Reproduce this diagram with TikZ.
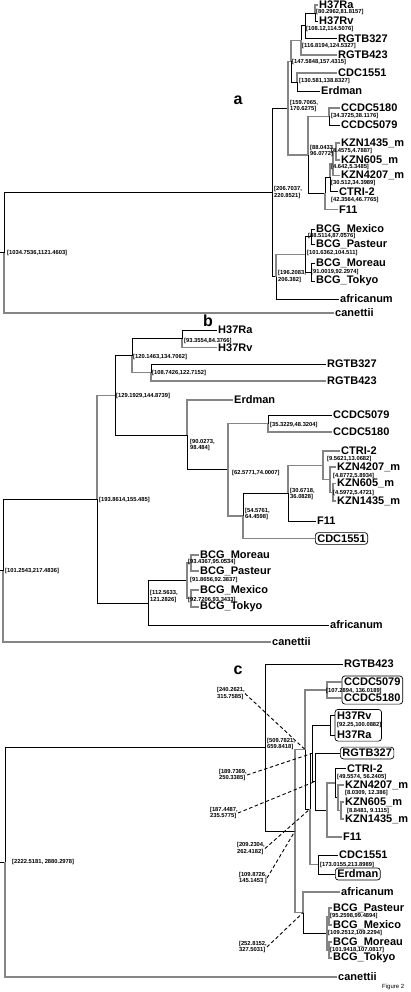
\documentclass[tikz,border=0pt]{standalone}
\usepackage{fontspec}
\setmainfont{Liberation Sans}
\usetikzlibrary{fit}
\begin{document}
\begin{tikzpicture}[x=1pt,y=-1pt,
  blk/.style={draw=black,line width=0.7pt},
  gry/.style={draw=black!48,line width=1.3pt},
  dsh/.style={draw=black,line width=0.9pt,dash pattern=on 3.5pt off 2.5pt},
  leaf/.style={anchor=west,inner sep=1pt,font=\fontsize{11}{12}\selectfont\bfseries},
  bleaf/.style={anchor=west,inner sep=2pt,font=\fontsize{11}{12}\selectfont\bfseries},
  boxed/.style={draw=black,line width=0.7pt,rounded corners=3pt},
  hpd/.style={anchor=west,inner sep=0pt,font=\fontsize{5.8}{6.4}\selectfont\bfseries,align=left},
  hpdr/.style={anchor=east,inner sep=0pt,font=\fontsize{5.8}{6.4}\selectfont\bfseries,align=left},
  panel/.style={font=\fontsize{16}{16}\selectfont\bfseries}]
\useasboundingbox (0,0) rectangle (410,992);
\fill[white] (0,0) rectangle (410,992);

% ================= PANEL A =================
\node[panel] (la) at (238,100) {a};
\node[leaf] (aH37Ra) at (318,5) {H37Ra};
\node[leaf] (aH37Rv) at (318,21) {H37Rv};
\node[leaf] (aRGTB327) at (337,38.5) {RGTB327};
\node[leaf] (aRGTB423) at (337,55) {RGTB423};
\node[leaf] (aCDC1551) at (337,73) {CDC1551};
\node[leaf] (aErdman) at (320,91) {Erdman};
\node[leaf] (aCCDC5180) at (340,108) {CCDC5180};
\node[leaf] (aCCDC5079) at (340,125) {CCDC5079};
\node[leaf] (aKZN1435) at (340,143) {KZN1435\_m};
\node[leaf] (aKZN605) at (340,160) {KZN605\_m};
\node[leaf] (aKZN4207) at (340,175.5) {KZN4207\_m};
\node[leaf] (aCTRI2) at (338,191.5) {CTRI-2};
\node[leaf] (aF11) at (338,209.5) {F11};
\node[leaf] (aMex) at (315,229) {BCG\_Mexico};
\node[leaf] (aPas) at (315,244) {BCG\_Pasteur};
\node[leaf] (aMor) at (315,263) {BCG\_Moreau};
\node[leaf] (aTok) at (315,281) {BCG\_Tokyo};
\node[leaf] (aafr) at (339,299) {africanum};
\node[leaf] (acan) at (334,313) {canettii};

\coordinate (aH37) at (315,13);
\coordinate (a108) at (305,25.75);
\coordinate (a116) at (301,40.4);
\coordinate (aCDC) at (297,82);
\coordinate (a147) at (291,61.2);
\coordinate (aCC) at (329,116.5);
\coordinate (aK1) at (336,151.5);
\coordinate (aK2) at (333,163.5);
\coordinate (aK3) at (330,177.5);
\coordinate (aKF) at (325,193.5);
\coordinate (a88) at (308,155);
\coordinate (a159) at (288,108.1);
\coordinate (aMP) at (311,236.5);
\coordinate (aMT) at (311,272);
\coordinate (aBCG) at (305,254.25);
\coordinate (a196) at (276,276.6);
\coordinate (a206) at (272,192.4);
\coordinate (aroot) at (4,252.7);
\coordinate (a0) at (0,252.7);

\draw[blk] (a0) -- (aroot);
\draw[blk] (aroot) |- (a206);
\draw[gry] (aroot) |- (acan.west);
\draw[blk] (a206) |- (a159);
\draw[blk] (a206) |- (a196);
\draw[gry] (a159) |- (a147);
\draw[gry] (a159) |- (a88);
\draw[gry] (a147) |- (a116);
\draw[blk] (a147) |- (aCDC);
\draw[blk] (a116) |- (a108);
\draw[gry] (a116) |- (aRGTB423.west);
\draw[blk] (a108) |- (aH37);
\draw[blk] (a108) |- (aRGTB327.west);
\draw[gry] (aH37) |- (aH37Ra.west);
\draw[blk] (aH37) |- (aH37Rv.west);
\draw[gry] (aCDC) |- (aCDC1551.west);
\draw[blk] (aCDC) |- (aErdman.west);
\draw[gry] (a88) |- (aCC);
\draw[blk] (a88) |- (aKF);
\draw[gry] (aCC) |- (aCCDC5180.west);
\draw[blk] (aCC) |- (aCCDC5079.west);
\draw[blk] (aKF) |- (aK3);
\draw[gry] (aKF) |- (aF11.west);
\draw[gry] (aK3) |- (aK2);
\draw[blk] (aK3) |- (aCTRI2.west);
\draw[gry] (aK2) |- (aK1);
\draw[gry] (aK2) |- (aKZN4207.west);
\draw[gry] (aK1) |- (aKZN1435.west);
\draw[gry] (aK1) |- (aKZN605.west);
\draw[gry] (a196) |- (aBCG);
\draw[blk] (a196) |- (aafr.west);
\draw[blk] (aBCG) |- (aMP);
\draw[blk] (aBCG) |- (aMT);
\draw[blk] (aMP) |- (aMex.west);
\draw[blk] (aMP) |- (aPas.west);
\draw[blk] (aMT) |- (aMor.west);
\draw[blk] (aMT) |- (aTok.west);

\node[hpd] (ha1) at (316,12.5) {[80.2962,81.8157]};
\node[hpd] (ha2) at (306,29.5) {[108.12,114.5076]};
\node[hpd] (ha3) at (302,46) {[116.8194,124.5327]};
\node[hpd] (ha4) at (292,62.5) {[147.5848,157.4315]};
\node[hpd] (ha5) at (299,81.5) {[130.581,138.8327]};
\node[hpd] (ha6) at (290,106) {[159.7065,\\170.6275]};
\node[hpd] (ha7) at (331,116.5) {[34.3725,38.1176]};
\node[hpd] (ha8) at (310,151) {[88.0433,\\96.0772]};
\node[hpd] (ha9) at (331,151.5) {[4.4575,4.7887]};
\node[hpd] (ha10) at (331,167.5) {[4.642,5.3485]};
\node[hpd] (ha11) at (331,183) {[30.512,34.3989]};
\node[hpd] (ha12) at (331,200.5) {[42.3564,46.7765]};
\node[hpd] (ha13) at (274,192.5) {[206.7037,\\220.8521]};
\node[hpd] (ha14) at (308,236.5) {[88.5114,87.0576]};
\node[hpd] (ha15) at (307,253.5) {[101.6362,104.511]};
\node[hpd] (ha16) at (311,272) {[91.0019,92.2974]};
\node[hpd] (ha17) at (278,276.6) {[196.2083,\\206.382]};
\node[hpd] (ha18) at (7,252.7) {[1034.7536,1121.4603]};

% ================= PANEL B =================
\node[panel] (lb) at (208,320.5) {b};
\node[leaf] (bH37Ra) at (217,330) {H37Ra};
\node[leaf] (bH37Rv) at (217,347.5) {H37Rv};
\node[leaf] (bRGTB327) at (326,364) {RGTB327};
\node[leaf] (bRGTB423) at (326,381) {RGTB423};
\node[leaf] (bErdman) at (233,400) {Erdman};
\node[leaf] (bCCDC5079) at (332,415) {CCDC5079};
\node[leaf] (bCCDC5180) at (332,432) {CCDC5180};
\node[leaf] (bCTRI2) at (340,451) {CTRI-2};
\node[leaf] (bKZN4207) at (336,467) {KZN4207\_m};
\node[leaf] (bKZN605) at (336,483.5) {KZN605\_m};
\node[leaf] (bKZN1435) at (336,501) {KZN1435\_m};
\node[leaf] (bF11) at (316,521) {F11};
\node[bleaf,boxed] (bCDC) at (315,538.5) {CDC1551};
\node[leaf] (bMor) at (199,555) {BCG\_Moreau};
\node[leaf] (bPas) at (199,571) {BCG\_Pasteur};
\node[leaf] (bMex) at (199,590) {BCG\_Mexico};
\node[leaf] (bTok) at (199,607) {BCG\_Tokyo};
\node[leaf] (bafr) at (329,625) {africanum};
\node[leaf] (bcan) at (271,642) {canettii};

\coordinate (bH37) at (182,338.75);
\coordinate (bRG) at (151,372.5);
\coordinate (b120) at (132,355.6);
\coordinate (bCC) at (268,423.5);
\coordinate (bK3) at (333,492.25);
\coordinate (bK2) at (330,479.6);
\coordinate (bK1) at (323,465.3);
\coordinate (b30) at (288,493.2);
\coordinate (b54) at (243,515.9);
\coordinate (b62) at (228,469.7);
\coordinate (b90) at (187,434.9);
\coordinate (b129) at (115,395.2);
\coordinate (bMP) at (191,563);
\coordinate (bMT) at (191,598.5);
\coordinate (bBI) at (187,580.75);
\coordinate (bBCG) at (148,602.9);
\coordinate (b193) at (97,499);
\coordinate (broot) at (3,570.5);
\coordinate (b0) at (0,570.5);

\draw[blk] (b0) -- (broot);
\draw[blk] (broot) |- (b193);
\draw[gry] (broot) |- (bcan.west);
\draw[gry] (b193) |- (b129);
\draw[blk] (b193) |- (bBCG);
\draw[blk] (b129) |- (b120);
\draw[blk] (b129) |- (b90);
\draw[blk] (b120) |- (bH37);
\draw[gry] (b120) |- (bRG);
\draw[blk] (bH37) |- (bH37Ra.west);
\draw[gry] (bH37) |- (bH37Rv.west);
\draw[blk] (bRG) |- (bRGTB327.west);
\draw[gry] (bRG) |- (bRGTB423.west);
\draw[gry] (b90) |- (bErdman.west);
\draw[blk] (b90) |- (b62);
\draw[gry] (b62) |- (bCC);
\draw[gry] (b62) |- (b54);
\draw[blk] (bCC) |- (bCCDC5079.west);
\draw[gry] (bCC) |- (bCCDC5180.west);
\draw[blk] (b54) |- (b30);
\draw[gry] (b54) |- (bCDC.west);
\draw[gry] (b30) |- (bK1);
\draw[blk] (b30) |- (bF11.west);
\draw[gry] (bK1) |- (bCTRI2.west);
\draw[gry] (bK1) |- (bK2);
\draw[gry] (bK2) |- (bKZN4207.west);
\draw[gry] (bK2) |- (bK3);
\draw[gry] (bK3) |- (bKZN605.west);
\draw[gry] (bK3) |- (bKZN1435.west);
\draw[blk] (bBCG) |- (bBI);
\draw[blk] (bBCG) |- (bafr.west);
\draw[gry] (bBI) |- (bMP);
\draw[gry] (bBI) |- (bMT);
\draw[gry] (bMP) |- (bMor.west);
\draw[gry] (bMP) |- (bPas.west);
\draw[gry] (bMT) |- (bMex.west);
\draw[gry] (bMT) |- (bTok.west);

\node[hpd] (hb1) at (184,340.5) {[93.3554,84.3766]};
\node[hpd] (hb2) at (133,356.5) {[120.1463,134.7062]};
\node[hpd] (hb3) at (152,373) {[108.7426,122.7152]};
\node[hpd] (hb4) at (116,395.5) {[129.1929,144.8739]};
\node[hpd] (hb5) at (190,445) {[90.0273,\\98.484]};
\node[hpd] (hb6) at (270,424.5) {[35.3229,48.3204]};
\node[hpd] (hb7) at (327,459) {[9.5621,13.0682]};
\node[hpd] (hb8) at (333,475.5) {[4.8772,5.8934]};
\node[hpd] (hb9) at (333,492.5) {[4.5972,5.4721]};
\node[hpd] (hb10) at (232,472.5) {[62.5771,74.0007]};
\node[hpd] (hb11) at (290,494) {[30.6718,\\36.0828]};
\node[hpd] (hb12) at (245,514) {[54.5761,\\64.4598]};
\node[hpd] (hb13) at (99,499.5) {[193.8614,155.485]};
\node[hpd] (hb14) at (5,570.5) {[101.2543,217.4836]};
\node[hpd] (hb15) at (188,562) {[93.4367,95.0534]};
\node[hpd] (hb16) at (190,580) {[91.8656,92.3837]};
\node[hpd] (hb17) at (188,599.5) {[92.7206,93.3433]};
\node[hpd] (hb18) at (150,596.5) {[112.5633,\\121.2826]};

% ================= PANEL C =================
\node[panel] (lc) at (238,670) {c};
\node[leaf] (cRGTB423) at (343,664) {RGTB423};
\node[bleaf] (c5079) at (342,682) {CCDC5079};
\node[bleaf] (c5180) at (342,698) {CCDC5180};
\node[boxed,fit=(c5079)(c5180),inner sep=0pt] (cCCbox) {};
\node[bleaf] (cH37Rv) at (335,715.5) {H37Rv};
\node[hpd] (hc1) at (337,724.5) {[92.25,100.0882]};
\node[bleaf] (cH37Ra) at (335,735) {H37Ra};
\node[boxed,fit=(cH37Rv)(cH37Ra)(hc1),inner sep=0pt] (cH37box) {};
\node[bleaf,boxed] (cRGTB327) at (340,753) {RGTB327};
\node[leaf] (cCTRI2) at (346,768.5) {CTRI-2};
\node[leaf] (cKZN4207) at (344,785) {KZN4207\_m};
\node[leaf] (cKZN605) at (344,802) {KZN605\_m};
\node[leaf] (cKZN1435) at (344,819) {KZN1435\_m};
\node[leaf] (cF11) at (342,837) {F11};
\node[leaf] (cCDC1551) at (338,855) {CDC1551};
\node[bleaf,boxed] (cErdman) at (335,874) {Erdman};
\node[leaf] (cafr) at (340,892) {africanum};
\node[leaf] (cPas) at (332,908) {BCG\_Pasteur};
\node[leaf] (cMex) at (332,925) {BCG\_Mexico};
\node[leaf] (cMor) at (332,942) {BCG\_Moreau};
\node[leaf] (cTok) at (332,958) {BCG\_Tokyo};
\node[leaf] (ccan) at (337,977) {canettii};

\coordinate (cCC) at (327,690);
\coordinate (cH37) at (330,725.25);
\coordinate (cK1) at (341,810.5);
\coordinate (cK2) at (338,797.75);
\coordinate (cKZ) at (335,783.1);
\coordinate (cKF) at (327,810);
\coordinate (cY4) at (315,781.5);
\coordinate (cY3) at (312,753.4);
\coordinate (cCE) at (318,864.5);
\coordinate (cY2) at (310,809);
\coordinate (cY) at (305,749.5);
\coordinate (cBP) at (329,916.5);
\coordinate (cBM) at (329,950);
\coordinate (cBCG) at (327,933.25);
\coordinate (cZ) at (303,912.6);
\coordinate (cX) at (295,831);
\coordinate (c509) at (265,747.5);
\coordinate (croot) at (5,862.25);
\coordinate (c0) at (0,862.25);

\draw[blk] (c0) -- (croot);
\draw[blk] (croot) |- (c509);
\draw[gry] (croot) |- (ccan.west);
\draw[blk] (c509) |- (cRGTB423.west);
\draw[blk] (c509) |- (cX);
\draw[gry] (cX) |- (cY);
\draw[gry] (cX) |- (cZ);
\draw[gry] (cY) |- (cCC);
\draw[blk] (cY) |- (cY2);
\draw[gry] (cCC) |- (c5079.west);
\draw[gry] (cCC) |- (c5180.west);
\draw[blk] (cY2) |- (cY3);
\draw[gry] (cY2) |- (cCE);
\draw[blk] (cY3) |- (cH37);
\draw[blk] (cY3) |- (cY4);
\draw[blk] (cH37) |- (cH37Rv.west);
\draw[blk] (cH37) |- (cH37Ra.west);
\draw[blk] (cY4) |- (cRGTB327.west);
\draw[blk] (cY4) |- (cKF);
\draw[gry] (cKF) |- (cKZ);
\draw[gry] (cKF) |- (cF11.west);
\draw[blk] (cKZ) |- (cCTRI2.west);
\draw[blk] (cKZ) |- (cK2);
\draw[gry] (cK2) |- (cKZN4207.west);
\draw[gry] (cK2) |- (cK1);
\draw[gry] (cK1) |- (cKZN605.west);
\draw[gry] (cK1) |- (cKZN1435.west);
\draw[blk] (cCE) |- (cCDC1551.west);
\draw[blk] (cCE) |- (cErdman.west);
\draw[gry] (cZ) |- (cafr.west);
\draw[blk] (cZ) |- (cBCG);
\draw[gry] (cBCG) |- (cBP);
\draw[gry] (cBCG) |- (cBM);
\draw[gry] (cBP) |- (cPas.west);
\draw[gry] (cBP) |- (cMex.west);
\draw[gry] (cBM) |- (cMor.west);
\draw[gry] (cBM) |- (cTok.west);

\node[hpd] (hc2) at (326,690.5) {[107.2894, 136.0189]};
\node[hpd] (hc3) at (337,777) {[49.5574, 56.2405]};
\node[hpd] (hc4) at (345,793) {[8.0309, 12.386]};
\node[hpd] (hc5) at (347,810.5) {[8.8481, 9.1115]};
\node[hpd] (hc6) at (320,864.5) {[173.0155,213.8989]};
\node[hpd] (hc7) at (330,916) {[95.2598,99.4894]};
\node[hpd] (hc8) at (328,933) {[109.2512,109.2294]};
\node[hpd] (hc9) at (330,949.5) {[101.9418,107.0817]};
\node[hpd] (hc10) at (267,744) {[509.7821,\\659.8418]};
\node[hpd] (hc11) at (12,862.25) {[2222.5181, 2880.2978]};
\node[hpdr] (hc12) at (245,693.5) {[240.2621,\\315.7585]};
\node[hpdr] (hc13) at (247,775) {[189.7369,\\250.3385]};
\node[hpdr] (hc14) at (238,813) {[187.4487,\\235.5775]};
\node[hpdr] (hc15) at (265,848.5) {[209.2304,\\262.4182]};
\node[hpdr] (hc16) at (267,878) {[109.8726,\\145.1453 ]};
\node[hpdr] (hc17) at (267,947) {[252.8152,\\327.5031]};
\draw[dsh] (hc12.east) -- (cY);
\draw[dsh] (hc13.east) -- (cY3);
\draw[dsh] (hc14.east) -- (cY4);
\draw[dsh] (hc15.east) -- (cY2);
\draw[dsh] (hc16.east) -- (cX);
\draw[dsh] (hc17.east) -- (cZ);

\node[anchor=west,inner sep=0pt,font=\fontsize{6}{7}\selectfont] (fig) at (382,987) {Figure 2};
\end{tikzpicture}
\end{document}
